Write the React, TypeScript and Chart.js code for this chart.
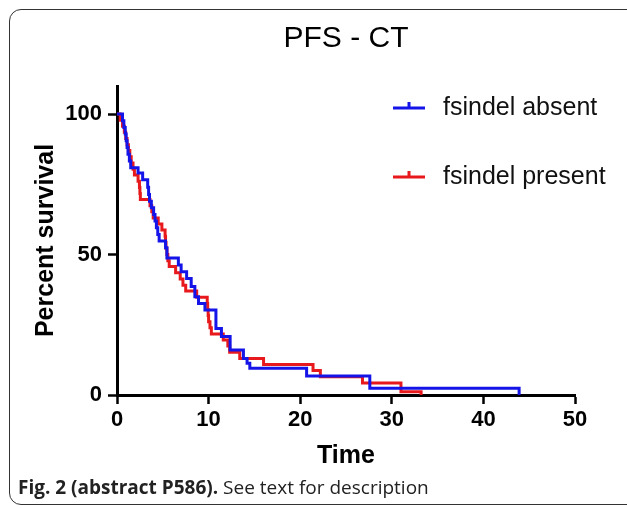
import React, { useEffect, useRef } from "react";
import { Chart, registerables } from "chart.js";

Chart.register(...registerables);

// ---- data ----
const TITLE = "PFS - CT";
const X_TITLE = "Time";
const Y_TITLE = "Percent survival";
const X_TICKS = [0, 10, 20, 30, 40, 50];
const Y_TICKS = [0, 50, 100];
const X_MIN = 0;
const X_MAX = 50;
const Y_MIN = 0;
const Y_MAX = 110;
const SERIES_NAMES = ["fsindel absent", "fsindel present"];
const SERIES_COLORS = ["#1414e8", "#e8191c"];

const ABSENT_TIME = [0, 0.6, 0.75, 0.9, 1.0, 1.1, 1.2, 1.35, 1.5, 2.3, 2.8, 3.35, 3.45, 3.55, 3.75, 4.0, 4.15, 4.3, 4.45, 4.6, 5.3, 5.45, 6.7, 7.0, 7.6, 8.1, 8.5, 8.9, 9.6, 10.8, 11.4, 12.35, 13.8, 14.2, 14.5, 20.7, 27.6, 43.9];
const ABSENT_SURV = [100, 97.6, 95.2, 92.9, 90.5, 88.1, 85.7, 83.3, 80.9, 79.0, 76.6, 74.0, 71.4, 69.0, 66.7, 64.3, 61.9, 59.5, 57.1, 54.8, 52.4, 48.8, 46.3, 43.9, 41.5, 38.6, 35.0, 32.6, 30.3, 23.7, 20.8, 16.0, 13.0, 11.3, 9.5, 6.8, 2.4, 0];

const PRESENT_TIME = [0, 0.35, 0.6, 0.8, 0.95, 1.1, 1.25, 1.4, 1.55, 1.75, 1.9, 2.3, 2.45, 2.5, 2.55, 3.6, 3.8, 3.95, 4.5, 4.9, 5.25, 5.3, 5.35, 5.45, 5.55, 5.7, 6.4, 6.9, 7.2, 7.5, 8.7, 9.85, 9.9, 9.95, 10.0, 10.15, 10.3, 11.6, 12.1, 12.3, 13.4, 16.0, 21.4, 22.2, 26.8, 31.0, 33.2];
const PRESENT_SURV = [100, 97.8, 95.7, 93.5, 91.3, 89.1, 87.0, 84.8, 82.6, 80.4, 78.3, 76.1, 73.9, 71.7, 69.6, 67.4, 65.2, 63.0, 60.9, 58.7, 56.5, 54.3, 52.2, 50.0, 47.8, 45.7, 43.5, 41.3, 39.1, 37.0, 34.8, 32.6, 30.4, 28.3, 26.1, 23.9, 21.7, 19.6, 17.4, 15.2, 13.0, 10.9, 8.7, 6.5, 4.3, 1.2, 0];

const CAPTION_BOLD = "Fig. 2 (abstract P586).";
const CAPTION_REST = " See text for description";

const FONT = '"Liberation Sans", Arial, Helvetica, sans-serif';

const toPoints = (t: number[], s: number[]) => t.map((x, i) => ({ x, y: s[i] }));

const legendPlugin = {
  id: "kmLegend",
  afterDraw(chart: any) {
    const ctx = chart.ctx;
    ctx.save();
    chart.data.datasets.forEach((ds: any, i: number) => {
      const y = 108 + i * 69;
      ctx.strokeStyle = ds.borderColor;
      ctx.lineWidth = 3;
      ctx.lineCap = "butt";
      ctx.beginPath();
      ctx.moveTo(393, y);
      ctx.lineTo(425, y);
      ctx.moveTo(409, y);
      ctx.lineTo(409, y - 6);
      ctx.stroke();
      ctx.fillStyle = "#111";
      ctx.font = `25px ${FONT}`;
      ctx.textBaseline = "middle";
      ctx.textAlign = "left";
      ctx.fillText(ds.label, 443, y);
    });
    ctx.restore();
  },
};

export default function App() {
  const ref = useRef<HTMLCanvasElement | null>(null);

  useEffect(() => {
    if (!ref.current) return;
    const chart = new Chart(ref.current, {
      type: "line",
      data: {
        datasets: [
          {
            label: SERIES_NAMES[0],
            data: toPoints(ABSENT_TIME, ABSENT_SURV),
            borderColor: SERIES_COLORS[0],
            backgroundColor: SERIES_COLORS[0],
            borderWidth: 3,
            stepped: true,
            pointRadius: 0,
            fill: false,
            borderJoinStyle: "miter",
          },
          {
            label: SERIES_NAMES[1],
            data: toPoints(PRESENT_TIME, PRESENT_SURV),
            borderColor: SERIES_COLORS[1],
            backgroundColor: SERIES_COLORS[1],
            borderWidth: 3,
            stepped: true,
            pointRadius: 0,
            fill: false,
            borderJoinStyle: "miter",
          },
        ],
      },
      options: {
        animation: false,
        responsive: false,
        devicePixelRatio: 1,
        layout: { padding: { left: 0, right: 52, top: 0, bottom: 0 } },
        plugins: {
          legend: { display: false },
          tooltip: { enabled: false },
          title: {
            display: true,
            fullSize: false,
            text: TITLE,
            color: "#000",
            font: { family: FONT, size: 30, weight: "normal", lineHeight: 1.2 },
            padding: { top: 21, bottom: 29 },
          },
        },
        scales: {
          x: {
            type: "linear",
            min: X_MIN,
            max: X_MAX,
            afterBuildTicks: (s: any) => {
              s.ticks = X_TICKS.map((v) => ({ value: v }));
            },
            afterFit: (s: any) => {
              s.height = 113;
            },
            ticks: {
              color: "#000",
              font: { family: FONT, size: 22, weight: "bold" },
              padding: 3,
              maxRotation: 0,
            },
            grid: {
              drawOnChartArea: false,
              drawTicks: true,
              tickLength: 9,
              tickColor: "#000",
              tickWidth: 2.5,
            },
            border: { display: true, color: "#000", width: 3 },
            title: {
              display: true,
              text: X_TITLE,
              color: "#000",
              font: { family: FONT, size: 25, weight: "bold", lineHeight: 1.2 },
              padding: { top: 0, bottom: 37 },
            },
          },
          y: {
            type: "linear",
            min: Y_MIN,
            max: Y_MAX,
            afterBuildTicks: (s: any) => {
              s.ticks = Y_TICKS.map((v) => ({ value: v }));
            },
            afterFit: (s: any) => {
              s.width = 117;
            },
            ticks: {
              color: "#000",
              font: { family: FONT, size: 22, weight: "bold" },
              padding: 6,
            },
            grid: {
              drawOnChartArea: false,
              drawTicks: true,
              tickLength: 9,
              tickColor: "#000",
              tickWidth: 2.5,
            },
            border: { display: true, color: "#000", width: 3 },
            title: {
              display: true,
              text: Y_TITLE,
              color: "#000",
              font: { family: FONT, size: 25, weight: "bold", lineHeight: 1.2 },
              padding: { top: 31, bottom: 0 },
            },
          },
        },
      },
      plugins: [legendPlugin],
    } as any);
    return () => chart.destroy();
  }, []);

  return (
    <div
      style={{
        position: "fixed",
        left: 0,
        top: 0,
        width: 627,
        height: 508,
        overflow: "hidden",
        background: "#fff",
      }}
    >
      <div
        style={{
          position: "absolute",
          left: 9,
          top: 9,
          width: 650,
          height: 496,
          border: "1.5px solid #333",
          borderRadius: 12,
          boxSizing: "border-box",
        }}
      />
      <canvas
        ref={ref}
        width={627}
        height={508}
        style={{ position: "absolute", left: 0, top: 0, width: 627, height: 508 }}
      />
      <div
        style={{
          position: "absolute",
          left: 18,
          top: 475,
          fontFamily: '"Open Sans", "Noto Sans", sans-serif',
          fontSize: 19,
          lineHeight: "24px",
          color: "#222",
          whiteSpace: "nowrap",
        }}
      >
        <b>{CAPTION_BOLD}</b>
        <span>{CAPTION_REST}</span>
      </div>
    </div>
  );
}
